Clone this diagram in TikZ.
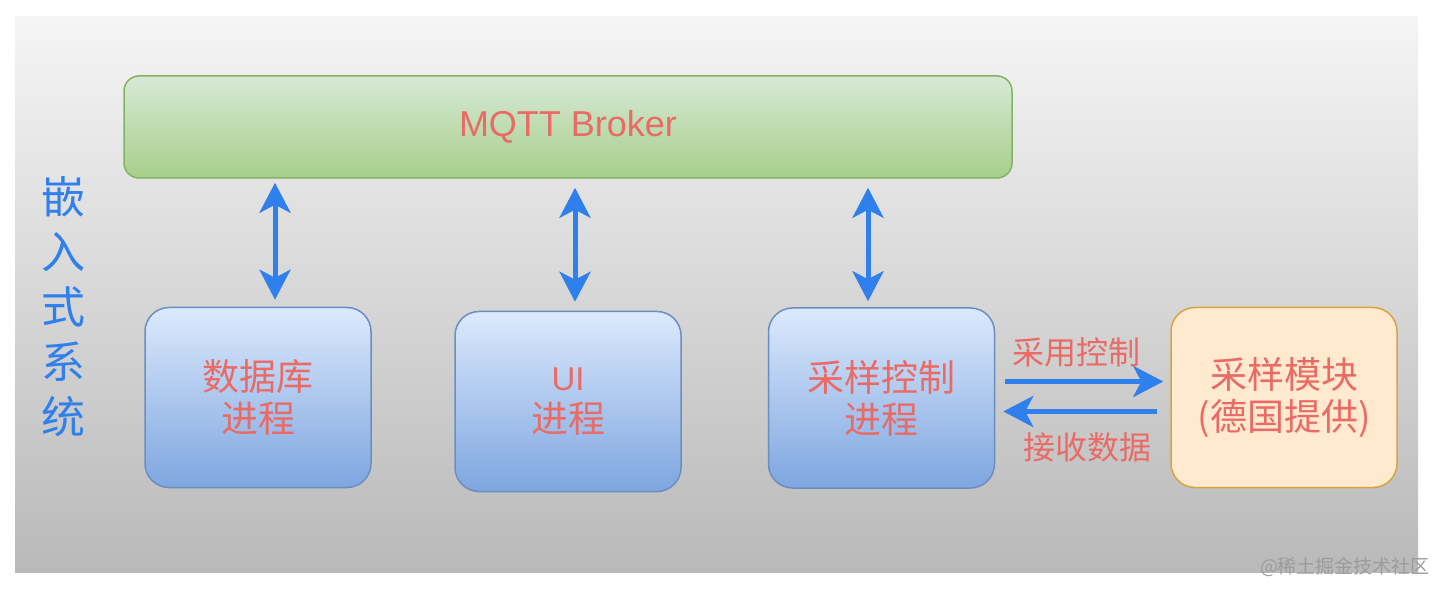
\documentclass[tikz,border=0pt]{standalone}
\usepackage{fontspec}
\setmainfont{Noto Sans CJK SC}
\newfontfamily\latinfont{Liberation Sans}
\usepackage{xcolor}
\usepackage{tikz}
\usetikzlibrary{arrows.meta, positioning}
\definecolor{bgtop}{HTML}{F5F5F5}
\definecolor{bgbottom}{HTML}{B9B9B9}
\definecolor{brokertop}{HTML}{D7E9D6}
\definecolor{brokerbottom}{HTML}{A7CF8A}
\definecolor{brokerline}{HTML}{82B366}
\definecolor{proctop}{HTML}{DCE9FC}
\definecolor{procbottom}{HTML}{7EA6E0}
\definecolor{procline}{HTML}{6C8EBF}
\definecolor{modfill}{HTML}{FFEAD0}
\definecolor{modline}{HTML}{D6A53F}
\definecolor{textred}{HTML}{EA6B66}
\definecolor{linkblue}{HTML}{2F80ED}
\definecolor{markgray}{HTML}{9C9C9C}

\tikzset{
  procbox/.style={draw=procline, line width=1.5pt, rounded corners=24pt,
    top color=proctop, bottom color=procbottom,
    minimum width=226pt, minimum height=180pt, align=center,
    text=textred, font=\fontsize{37}{42}\selectfont},
  biarrow/.style={linkblue, line width=5pt,
    {Stealth[length=30pt, width=31pt, inset=8pt]}-{Stealth[length=30pt, width=31pt, inset=8pt]}},
  onearrow/.style={linkblue, line width=5pt, -{Stealth[length=30pt, width=31pt, inset=8pt]}},
  lbl/.style={text=textred, font=\fontsize{32}{32}\selectfont}
}

\begin{document}
\begin{tikzpicture}[x=1pt, y=-1pt]
    \useasboundingbox (0,0) rectangle (1444,596);

    % ── BACKGROUND ────────────────────────────────────────────────────
    \fill[top color=bgtop, bottom color=bgbottom] (15,17) rectangle (1418,572);
    \node[linkblue, align=center, font=\fontsize{44}{55}\selectfont] (side) at (63,307)
        {嵌\\入\\式\\系\\统};

    % ── BROKER ────────────────────────────────────────────────────────
    \node[draw=brokerline, line width=1.5pt, rounded corners=15pt,
          top color=brokertop, bottom color=brokerbottom,
          minimum width=888pt, minimum height=102pt,
          text=textred, font=\latinfont\fontsize{36}{36}\selectfont] (broker) at (568,127) {MQTT Broker};

    % ── PROCESSES ─────────────────────────────────────────────────────
    \node[procbox] (db) at (258,397.5) {数据库\\进程};
    \node[procbox] (ui) at (568,401.5) {{\latinfont\fontsize{33}{33}\selectfont UI}\\进程};
    \node[procbox] (ctrl) at (881.5,398) {采样控制\\进程};

    % Sampling module (external)
    \node[draw=modline, line width=1.5pt, rounded corners=24pt, fill=modfill,
          minimum width=226pt, minimum height=180pt, align=center,
          text=textred, font=\fontsize{37}{42}\selectfont] (module) at (1284,397.5) {采样模块\\(德国提供)};

    % Links to the broker
    \draw[biarrow, shorten <=7pt, shorten >=4pt] ([xshift=17pt]db.north) -- ([xshift=17pt]db.north |- broker.south);
    \draw[biarrow, shorten <=9pt, shorten >=9pt] ([xshift=7pt]ui.north) -- ([xshift=7pt]ui.north |- broker.south);
    \draw[biarrow, shorten <=6pt, shorten >=9pt] ([xshift=-13.5pt]ctrl.north) -- ([xshift=-13.5pt]ctrl.north |- broker.south);

    % Control out, data back
    \draw[onearrow, shorten <=10pt, shorten >=7pt] ([yshift=16.5pt]ctrl.east) -- ([yshift=16.5pt]ctrl.east -| module.west);
    \draw[onearrow, shorten <=13pt, shorten >=8pt] ([yshift=-13.5pt]ctrl.east -| module.west) -- ([yshift=-13.5pt]ctrl.east);
    \node[lbl] (send) at (1076,352.5) {采用控制};
    \node[lbl] (recv) at (1087.5,447.5) {接收数据};

    % Watermark
    \node[markgray, font=\fontsize{19}{19}\selectfont] (mark) at (1345,567) {@稀土掘金技术社区};
\end{tikzpicture}
\end{document}
